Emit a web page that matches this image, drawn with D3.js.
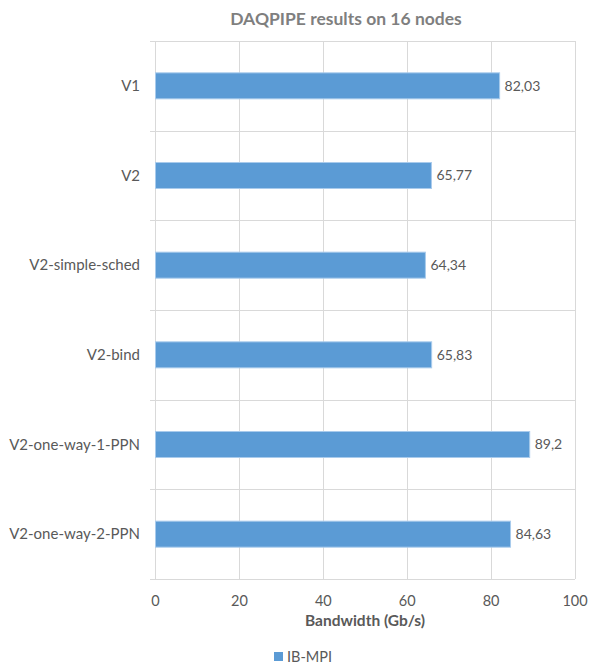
<!DOCTYPE html>
<html><head><meta charset="utf-8">
<script src="https://cdn.jsdelivr.net/npm/d3@7"></script>
<style>body{margin:0;background:#fff}svg{display:block}text{font-family:Lato,"Open Sans",sans-serif}</style>
</head><body><svg id="c" width="592" height="667"></svg>
<script>
const categories = ["V1","V2","V2-simple-sched","V2-bind","V2-one-way-1-PPN","V2-one-way-2-PPN"];
const values = [82.03,65.77,64.34,65.83,89.2,84.63];
const valueLabels = ["82,03","65,77","64,34","65,83","89,2","84,63"];
const xTicks = [0,20,40,60,80,100];
const seriesName = "IB-MPI";
const title = "DAQPIPE results on 16 nodes";
const xTitle = "Bandwidth (Gb/s)";

const svg = d3.select("#c");
const L=155.5, R=575, T=41, B=579;
const x = d3.scaleLinear().domain([0,100]).range([L,R]);
const y = d3.scaleBand().domain(categories).range([T,B]).paddingInner(0.71).paddingOuter(0.355);
const yb = d3.scaleBand().domain(categories).range([T,B]);
const grid="#d9d9d9", txt="#595959", bar="#5b9bd5";

svg.append("g").selectAll("line").data(xTicks.slice(1)).join("line")
 .attr("x1",d=>Math.round(x(d))+0.5).attr("x2",d=>Math.round(x(d))+0.5)
 .attr("y1",T).attr("y2",B).attr("stroke",grid);
const seps = categories.map(c=>yb(c)).concat([B]);
svg.append("g").selectAll("line").data(seps).join("line")
 .attr("x1",150).attr("x2",R).attr("y1",d=>Math.round(d)+0.5).attr("y2",d=>Math.round(d)+0.5)
 .attr("stroke",grid);
svg.append("line").attr("x1",L).attr("x2",L).attr("y1",T).attr("y2",B).attr("stroke",grid);

svg.append("g").selectAll("rect").data(values).join("rect")
 .attr("x",x(0)).attr("y",(d,i)=>y(categories[i]))
 .attr("width",d=>x(d)-x(0)).attr("height",y.bandwidth())
 .attr("fill",bar).attr("stroke","#a9cbec").attr("stroke-width",1);

svg.append("g").selectAll("text").data(values).join("text")
 .attr("x",d=>x(d)+5).attr("y",(d,i)=>y(categories[i])+y.bandwidth()/2)
 .attr("dy","0.35em").attr("font-size",14).attr("fill",txt).text((d,i)=>valueLabels[i]);

svg.append("g").selectAll("text").data(categories).join("text")
 .attr("x",140).attr("y",d=>y(d)+y.bandwidth()/2).attr("dy","0.35em")
 .attr("text-anchor","end").attr("font-size",15).attr("fill",txt).text(d=>d);

svg.append("g").selectAll("text").data(xTicks).join("text")
 .attr("x",d=>x(d)).attr("y",606).attr("text-anchor","middle")
 .attr("font-size",14.5).attr("fill",txt).text(d=>d);

svg.append("text").attr("x",365).attr("y",626).attr("text-anchor","middle")
 .attr("font-size",15.5).attr("font-weight","bold").attr("fill",txt).text(xTitle);

svg.append("text").attr("x",346).attr("y",25).attr("text-anchor","middle")
 .attr("font-size",17.5).attr("font-weight","bold").attr("fill","#7f7f7f").text(title);

const lg = svg.append("g");
lg.append("rect").attr("x",274).attr("y",652).attr("width",9).attr("height",9).attr("fill",bar);
lg.append("text").attr("x",287).attr("y",661.5).attr("font-size",14.5).attr("fill",txt).text(seriesName);
</script></body></html>
